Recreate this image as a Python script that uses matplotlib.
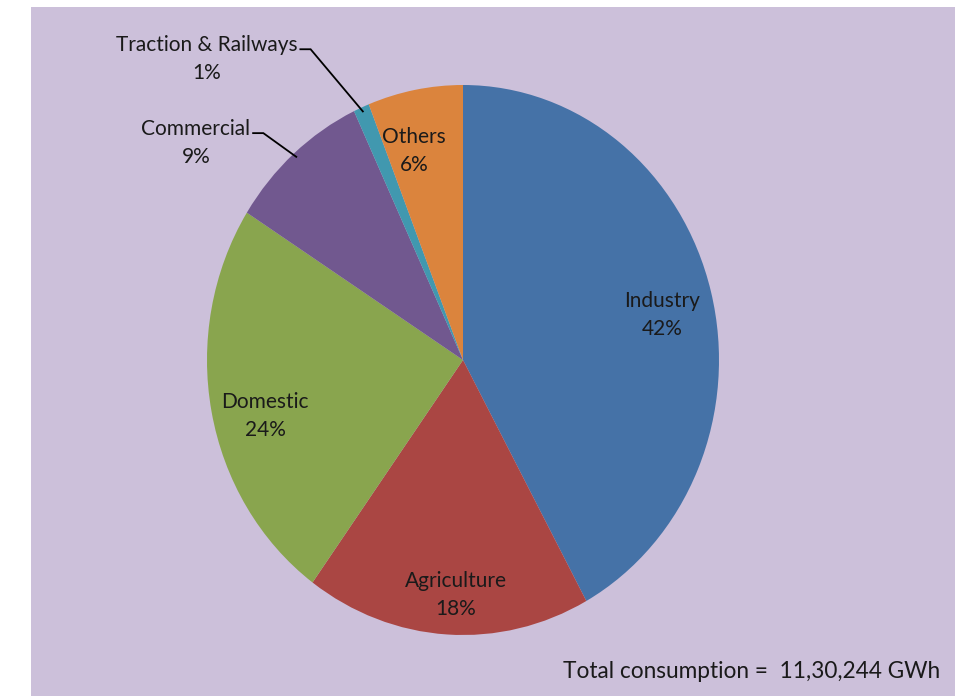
import numpy as np
import matplotlib
matplotlib.use("Agg")
import matplotlib.pyplot as plt
from matplotlib.patches import Rectangle

# electricity consumption by sector (%)
sectors = ["Industry", "Agriculture", "Domestic", "Commercial", "Traction & Railways", "Others"]
shares = [42, 18, 24, 9, 1, 6]
colors = ["#4572A7", "#AA4643", "#89A54E", "#71588F", "#4198AF", "#DB843D"]
total_text = "Total consumption =  11,30,244 GWh"

# label centres in axes data units
label_pos = [(0.777, 0.165), (-0.027, -0.855), (-0.773, -0.205),
             (-1.043, 0.79), (-1.0, 1.095), (-0.19, 0.76)]
leader = [False, False, False, True, True, False]

W, H = 955, 696
fig = plt.figure(figsize=(W / 100, H / 100), dpi=100, facecolor="white")
fig.patches.append(Rectangle((31 / W, 0), 1 - 31 / W, 1 - 7 / H,
                             transform=fig.transFigure, facecolor="#CCC0DA",
                             edgecolor="none", zorder=-10))

plt.rcParams["font.family"] = ["Lato", "DejaVu Sans"]

# pie occupies pixel box x 207..719, y 85..635 (slightly stretched vertically)
ax = fig.add_axes([207 / W, (H - 635) / H, 512 / W, 550 / H])
ax.set_zorder(5)
ax.patch.set_alpha(0)
wedges, _ = ax.pie(shares, colors=colors, startangle=90, counterclock=False,
                   radius=1, wedgeprops=dict(linewidth=0))
ax.set_aspect("auto")
ax.set_xlim(-1, 1)
ax.set_ylim(-1, 1)
ax.axis("off")

for w, name, val, (tx, ty), lead in zip(wedges, sectors, shares, label_pos, leader):
    t = ax.text(tx, ty, f"{name}\n{val}%", ha="center", va="center",
                fontsize=15, color="#1a1a1a", linespacing=1.5, clip_on=False)
    if lead:
        mid = np.deg2rad((w.theta1 + w.theta2) / 2)
        ex, ey = 0.985 * np.cos(mid), 0.985 * np.sin(mid)
        # short horizontal tick after the first line, then down to the wedge
        fig.canvas.draw()
        bb = t.get_window_extent().transformed(ax.transData.inverted())
        x0 = bb.x1 + 0.01
        y0 = ty + 0.035
        ax.plot([x0, x0 + 0.04, ex], [y0, y0, ey], color="black", lw=1.3,
                clip_on=False, solid_joinstyle="miter")

fig.text(940 / W, 1 - 672 / H, total_text, ha="right", va="center",
         fontsize=16.3, color="#1a1a1a")

fig.savefig("out.png", dpi=100, facecolor=fig.get_facecolor())
